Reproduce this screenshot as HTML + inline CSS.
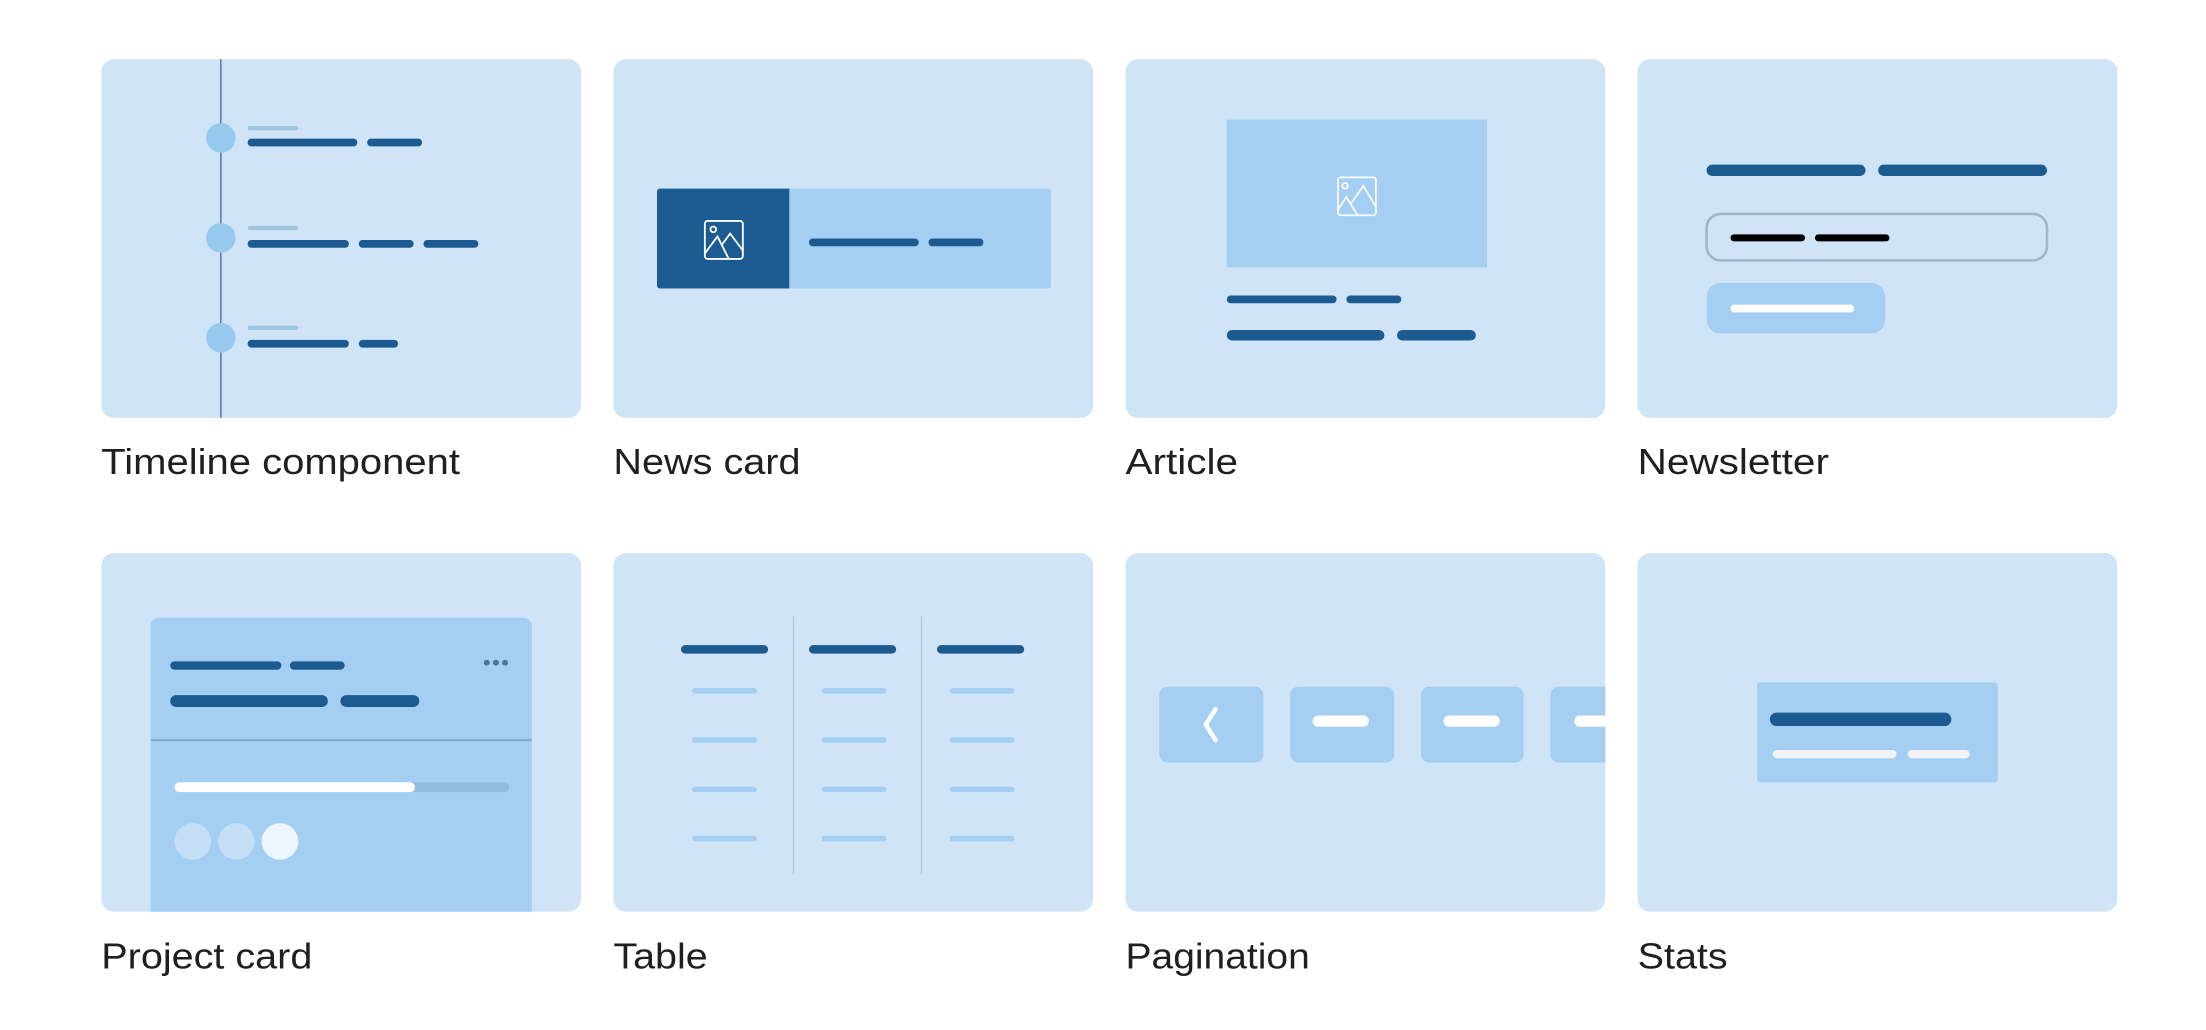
<!DOCTYPE html>
<html><head><meta charset="utf-8"><style>
html,body{margin:0;padding:0;background:#fff;}
svg{display:block;}
text{font-family:"Liberation Sans",sans-serif;font-size:25.5px;fill:#1f1f1f;}
</style></head><body>
<svg width="2206" height="1030" viewBox="0 0 1568 732" xmlns="http://www.w3.org/2000/svg">
<defs>
<clipPath id="c7"><rect x="800" y="393" width="341" height="255" rx="9"/></clipPath>
<clipPath id="c1"><rect x="72" y="42" width="341" height="255" rx="9"/></clipPath>
<clipPath id="c5"><rect x="72" y="393" width="341" height="255" rx="9"/></clipPath>
</defs>
<g fill="#d0e4f7">
<rect x="72" y="42" width="341" height="255" rx="9"/>
<rect x="436" y="42" width="341" height="255" rx="9"/>
<rect x="800" y="42" width="341" height="255" rx="9"/>
<rect x="1164" y="42" width="341" height="255" rx="9"/>
<rect x="72" y="393" width="341" height="255" rx="9"/>
<rect x="436" y="393" width="341" height="255" rx="9"/>
<rect x="800" y="393" width="341" height="255" rx="9"/>
<rect x="1164" y="393" width="341" height="255" rx="9"/>
</g>

<!-- Card 1 timeline -->
<g clip-path="url(#c1)">
<line x1="157" y1="42" x2="157" y2="297" stroke="#1c5b91" stroke-width="0.8"/>
</g>
<g fill="#97c8ee"><circle cx="157" cy="98" r="10.5"/><circle cx="157" cy="169" r="10.5"/><circle cx="157" cy="240" r="10.5"/></g>
<g fill="#9fc4e0"><rect x="176" y="89.5" width="36" height="3" rx="1.5"/><rect x="176" y="160.5" width="36" height="3" rx="1.5"/><rect x="176" y="231.5" width="36" height="3" rx="1.5"/></g>
<g fill="#1c5b91">
<rect x="176" y="98.5" width="78" height="5.5" rx="2.7"/><rect x="261" y="98.5" width="39" height="5.5" rx="2.7"/>
<rect x="176" y="170.5" width="72" height="5.5" rx="2.7"/><rect x="255" y="170.5" width="39" height="5.5" rx="2.7"/><rect x="301" y="170.5" width="39" height="5.5" rx="2.7"/>
<rect x="176" y="241.5" width="72" height="5.5" rx="2.7"/><rect x="255" y="241.5" width="28" height="5.5" rx="2.7"/>
</g>

<!-- Card 2 news -->
<rect x="467" y="134" width="280" height="71" rx="2" fill="#a4cff3"/>
<path d="M469 134 H561 V205 H469 a2 2 0 0 1 -2 -2 V136 a2 2 0 0 1 2 -2z" fill="#1c5b91"/>
<g fill="none" stroke="#fff" stroke-width="1.3">
<rect x="501" y="157" width="27" height="27" rx="2"/>
<circle cx="507" cy="163" r="2"/>
<path d="M501 180 L510 168 L518 184 M513 174 L519 166 L528 178"/>
</g>
<g fill="#1c5b91"><rect x="575" y="169.5" width="78" height="5.5" rx="2.7"/><rect x="660" y="169.5" width="39" height="5.5" rx="2.7"/></g>

<!-- Card 3 article -->
<rect x="872" y="85" width="185" height="105" fill="#a4cff3"/>
<g fill="none" stroke="#fff" stroke-width="1.2">
<rect x="951" y="126" width="27" height="27" rx="2"/>
<circle cx="956" cy="132" r="2"/>
<path d="M951 149 L957 140 L965 153 M960 145 L969 132 L978 147"/>
</g>
<g fill="#1c5b91">
<rect x="872" y="210" width="78" height="5.5" rx="2.7"/><rect x="957" y="210" width="39" height="5.5" rx="2.7"/>
<rect x="872" y="234.5" width="112" height="7.5" rx="3.7"/><rect x="993" y="234.5" width="56" height="7.5" rx="3.7"/>
</g>

<!-- Card 4 newsletter -->
<g fill="#1c5b91"><rect x="1213" y="117" width="113" height="8" rx="4"/><rect x="1335" y="117" width="120" height="8" rx="4"/></g>
<rect x="1213" y="152" width="242" height="33" rx="10" fill="none" stroke="#a3b4c4" stroke-width="1.8"/>
<g fill="#000"><rect x="1230" y="166.5" width="53" height="5" rx="2.5"/><rect x="1290" y="166.5" width="53" height="5" rx="2.5"/></g>
<rect x="1213" y="201" width="127" height="36" rx="10" fill="#a4cff3"/>
<rect x="1230" y="216.5" width="88" height="5.5" rx="2.7" fill="#fff"/>

<!-- Card 5 project -->
<g clip-path="url(#c5)">
<path d="M113 439 H372 a6 6 0 0 1 6 6 V660 H107 V445 a6 6 0 0 1 6 -6z" fill="#a4cff3"/>
</g>
<g fill="#1c5b91">
<rect x="121" y="470" width="79" height="6" rx="3"/><rect x="206" y="470" width="39" height="6" rx="3"/>
<rect x="121" y="494" width="112" height="8.5" rx="4.2"/><rect x="242" y="494" width="56" height="8.5" rx="4.2"/>
</g>
<g fill="#4f7393"><circle cx="346" cy="471" r="2.1"/><circle cx="352.5" cy="471" r="2.1"/><circle cx="359" cy="471" r="2.1"/></g>
<line x1="107" y1="526" x2="378" y2="526" stroke="#7ea6c8" stroke-width="1.2"/>
<rect x="124" y="556" width="238" height="7" rx="3.5" fill="#91bcdd"/>
<rect x="124" y="556" width="171" height="7" rx="3.5" fill="#fff"/>
<circle cx="137" cy="598" r="13" fill="#c4def5"/>
<circle cx="168" cy="598" r="13" fill="#c4def5"/>
<circle cx="199" cy="598" r="13" fill="#eef6fd"/>

<!-- Card 6 table -->
<g stroke="#b0c8dc" stroke-width="1"><line x1="564" y1="438" x2="564" y2="621"/><line x1="655" y1="438" x2="655" y2="621"/></g>
<g fill="#1c5b91"><rect x="484" y="458.5" width="62" height="6" rx="3"/><rect x="575" y="458.5" width="62" height="6" rx="3"/><rect x="666" y="458.5" width="62" height="6" rx="3"/></g>
<g fill="#a4cff3">
<rect x="492" y="489" width="46" height="4" rx="2"/><rect x="584" y="489" width="46" height="4" rx="2"/><rect x="675" y="489" width="46" height="4" rx="2"/>
<rect x="492" y="524" width="46" height="4" rx="2"/><rect x="584" y="524" width="46" height="4" rx="2"/><rect x="675" y="524" width="46" height="4" rx="2"/>
<rect x="492" y="559" width="46" height="4" rx="2"/><rect x="584" y="559" width="46" height="4" rx="2"/><rect x="675" y="559" width="46" height="4" rx="2"/>
<rect x="492" y="594" width="46" height="4" rx="2"/><rect x="584" y="594" width="46" height="4" rx="2"/><rect x="675" y="594" width="46" height="4" rx="2"/>
</g>

<!-- Card 7 pagination -->
<g clip-path="url(#c7)">
<g fill="#a4cff3">
<rect x="824" y="488" width="74" height="54" rx="6"/>
<rect x="917" y="488" width="74" height="54" rx="6"/>
<rect x="1010" y="488" width="73" height="54" rx="6"/>
<rect x="1102" y="488" width="74" height="54" rx="6"/>
</g>
<g fill="#fff">
<rect x="933" y="508.5" width="40" height="8" rx="4"/>
<rect x="1026" y="508.5" width="40" height="8" rx="4"/>
<rect x="1119" y="508.5" width="40" height="8" rx="4"/>
</g>
</g>
<path d="M864 504 L857 515 L864 526" fill="none" stroke="#fff" stroke-width="3.2" stroke-linecap="round" stroke-linejoin="round"/>

<!-- Card 8 stats -->
<rect x="1249" y="485" width="171" height="71" rx="2" fill="#a4cff3"/>
<rect x="1258" y="506.5" width="129" height="9.5" rx="4.7" fill="#1c5b91"/>
<g fill="#f1f3f6"><rect x="1260" y="533" width="88" height="6" rx="3"/><rect x="1356" y="533" width="44" height="6" rx="3"/></g>

<!-- Labels -->
<text x="72" y="337" textLength="255" lengthAdjust="spacingAndGlyphs">Timeline component</text>
<text x="436" y="337" textLength="133" lengthAdjust="spacingAndGlyphs">News card</text>
<text x="800" y="337" textLength="80" lengthAdjust="spacingAndGlyphs">Article</text>
<text x="1164" y="337" textLength="136" lengthAdjust="spacingAndGlyphs">Newsletter</text>
<text x="72" y="688.5" textLength="150" lengthAdjust="spacingAndGlyphs">Project card</text>
<text x="436" y="688.5" textLength="67" lengthAdjust="spacingAndGlyphs">Table</text>
<text x="800" y="688.5" textLength="131" lengthAdjust="spacingAndGlyphs">Pagination</text>
<text x="1164" y="688.5" textLength="64" lengthAdjust="spacingAndGlyphs">Stats</text>
</svg>
</body></html>
